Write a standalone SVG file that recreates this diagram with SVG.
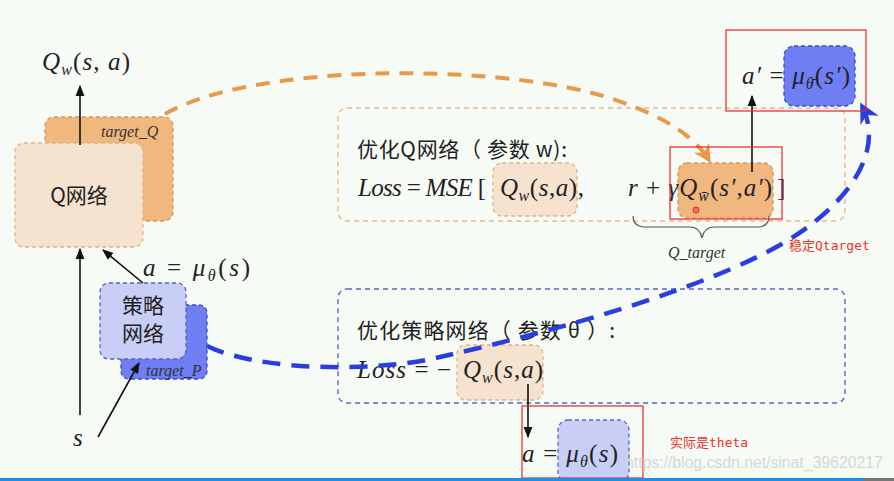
<svg xmlns="http://www.w3.org/2000/svg" width="894" height="481" viewBox="0 0 894 481">
<defs>
<style>
.m{font-family:"Liberation Serif","DejaVu Serif",serif;font-style:italic;font-size:25px;fill:#222}
.mu{font-style:normal}
.sub{font-size:16px}
.cn{font-family:"Noto Sans CJK SC","Noto Sans",sans-serif;font-size:21px;font-weight:normal;fill:#1e1e1e}
.red{font-family:"DejaVu Sans Mono","Noto Sans CJK SC",monospace;font-size:13px;fill:#f0302a}
.tg{font-family:"Liberation Serif",serif;font-style:italic;font-size:16px;fill:#333}
.ob{fill:#f0b77e;stroke:#d9955a;stroke-width:1.3;stroke-dasharray:4 3}
.lb{fill:#f5e3cf;stroke:#e3b387;stroke-width:1.3;stroke-dasharray:4 3}
.bb{fill:#6f7ef3;stroke:#3c4cc0;stroke-width:1.3;stroke-dasharray:4 3}
.pb{fill:#c9cef6;stroke:#5664c8;stroke-width:1.3;stroke-dasharray:4 3}
.ln{stroke:#111;stroke-width:1.6;fill:none}
.rr{fill:none;stroke:#e8242a;stroke-width:1.2}
</style>
<marker id="ah" viewBox="0 0 10 10" refX="9" refY="5" markerWidth="7" markerHeight="7" orient="auto"><path d="M0,1 L10,5 L0,9 Z" fill="#111"/></marker>
<marker id="oa" viewBox="0 0 10 10" refX="8" refY="5" markerWidth="4.5" markerHeight="4.5" orient="auto"><path d="M0,0 L10,5 L0,10 L3,5 Z" fill="#e89a4a"/></marker>
<marker id="ba" viewBox="0 0 10 10" refX="8" refY="5" markerWidth="4.5" markerHeight="4.5" orient="auto"><path d="M0,0 L10,5 L0,10 L3,5 Z" fill="#2a3ee0"/></marker>
</defs>
<rect width="894" height="481" fill="#f7fbf6"/>

<g id="panel-q">
<rect x="338" y="108" width="507" height="113" rx="9" fill="none" stroke="#e6b98c" stroke-width="1.4" stroke-dasharray="5 4"/>
<text class="cn" x="357" y="157" textLength="210">优化Q网络（ 参数 w):</text>
<rect class="lb" x="493" y="163" width="84" height="53" rx="9"/>
<rect class="ob" x="678" y="163" width="95" height="55" rx="9"/>
<text class="m" x="358" y="196" textLength="128">Loss <tspan class="mu">= </tspan>MSE <tspan class="mu">[</tspan></text>
<text class="m" x="500" y="196" textLength="84">Q<tspan class="sub" dy="5">w</tspan><tspan class="mu" dy="-5">(</tspan>s<tspan class="mu">,</tspan>a<tspan class="mu">),</tspan></text>
<text class="m" x="628" y="196" textLength="144">r <tspan class="mu">+ </tspan>γQ<tspan class="sub" dy="5">w̄</tspan><tspan class="mu" dy="-5">(</tspan>s′<tspan class="mu">,</tspan>a′<tspan class="mu">)</tspan></text>
<text class="m mu" x="777" y="196">]</text>
<path d="M633,216 q0,10 10,11 h47 q10,0 12,11 q2,-11 12,-11 h45 q10,-1 10,-11" fill="none" stroke="#555" stroke-width="1.2"/>
<text class="tg" x="668" y="258" font-size="17">Q_target</text>
</g>

<g id="panel-p">
<rect x="338" y="289" width="507" height="114" rx="9" fill="none" stroke="#5865c8" stroke-width="1.4" stroke-dasharray="5 4"/>
<text class="cn" x="357" y="338" textLength="258">优化策略网络（ 参数 θ ）:</text>
<rect class="lb" x="457" y="345" width="86" height="55" rx="9"/>
<text class="m" x="357" y="378" textLength="94">Loss <tspan class="mu">= −</tspan></text>
<text class="m" x="463" y="378" textLength="80">Q<tspan class="sub" dy="5">w</tspan><tspan class="mu" dy="-5">(</tspan>s<tspan class="mu">,</tspan>a<tspan class="mu">)</tspan></text>
</g>

<g id="target-q">
<rect class="ob" x="45" y="117" width="128" height="104" rx="9"/>
<text class="tg" x="101" y="137">target_Q</text>
</g>
<g id="q-net">
<rect class="lb" x="15" y="143" width="128" height="104" rx="9" fill="#f7e5d2"/>
<text class="cn" x="79" y="203" text-anchor="middle" font-size="20">Q网络</text>
</g>
<g id="target-p">
<rect class="bb" x="121" y="305" width="86" height="74" rx="8"/>
<text class="tg" x="146" y="376" font-size="15">target_P</text>
</g>
<g id="policy-net">
<rect class="pb" x="100" y="283" width="86" height="76" rx="9"/>
<text class="cn" x="143" y="313" text-anchor="middle">策略</text>
<text class="cn" x="143" y="341" text-anchor="middle">网络</text>
</g>

<g id="labels">
<text class="m" x="42" y="70" textLength="88">Q<tspan class="sub" dy="5">w</tspan><tspan class="mu" dy="-5">(</tspan>s<tspan class="mu">, </tspan>a<tspan class="mu">)</tspan></text>
<text class="m" x="143" y="276" textLength="107">a <tspan class="mu">= </tspan>μ<tspan class="sub" dy="5">θ</tspan><tspan class="mu" dy="-5">(</tspan>s<tspan class="mu">)</tspan></text>
<text class="m" x="73" y="446" font-size="27">s</text>
</g>

<g id="a-prime">
<rect class="bb" x="784" y="46" width="71" height="60" rx="10"/>
<text class="m" x="742" y="84" textLength="108">a′ <tspan class="mu">= </tspan>μ<tspan class="sub" dy="5">θ̄</tspan><tspan class="mu" dy="-5">(</tspan>s′<tspan class="mu">)</tspan></text>
</g>

<g id="a-theta">
<rect class="pb" x="558" y="420" width="71" height="62" rx="10"/>
<text class="m" x="522" y="462" textLength="96">a <tspan class="mu">= </tspan>μ<tspan class="sub" dy="5">θ</tspan><tspan class="mu" dy="-5">(</tspan>s<tspan class="mu">)</tspan></text>
</g>

<g id="connectors">
<line class="ln" x1="80" y1="145" x2="80" y2="86" marker-end="url(#ah)"/>
<line class="ln" x1="80" y1="415" x2="80" y2="249" marker-end="url(#ah)"/>
<line class="ln" x1="143" y1="283" x2="103" y2="250" marker-end="url(#ah)"/>
<line class="ln" x1="98" y1="437" x2="139" y2="363" marker-end="url(#ah)"/>
<line class="ln" x1="752" y1="172" x2="752" y2="96" marker-end="url(#ah)"/>
<line class="ln" x1="528" y1="384" x2="528" y2="437" marker-end="url(#ah)"/>
<path d="M165,114 C250,65 480,62 600,95 C650,110 690,130 709,160" fill="none" stroke="#e89a4a" stroke-width="4" stroke-dasharray="14 10" marker-end="url(#oa)"/>
<path d="M207,346 C260,372 380,372 440,357 C560,330 700,290 780,245 C850,205 885,150 862,106" fill="none" stroke="#2a3ee0" stroke-width="4.5" stroke-dasharray="18 11" marker-end="url(#ba)"/>
</g>

<g id="annotations">
<rect class="rr" x="670" y="147" width="112" height="72"/>
<rect class="rr" x="726" y="30" width="140" height="81"/>
<rect class="rr" x="522" y="406" width="121" height="72"/>
<circle cx="696" cy="210" r="3" fill="#f07070" stroke="#e02020" stroke-width="1"/>
<text class="red" x="789" y="250">稳定Qtarget</text>
<text class="red" x="670" y="447">实际是theta</text>
<text x="625" y="468" font-family="Liberation Sans,Arial,sans-serif" font-size="16" fill="#d4d8d4" textLength="258">https://blog.csdn.net/sinat_39620217</text>
</g>
<rect x="0" y="478" width="863" height="3" fill="#1e8ee6"/>
<rect x="863" y="478" width="31" height="3" fill="#777"/>
</svg>
